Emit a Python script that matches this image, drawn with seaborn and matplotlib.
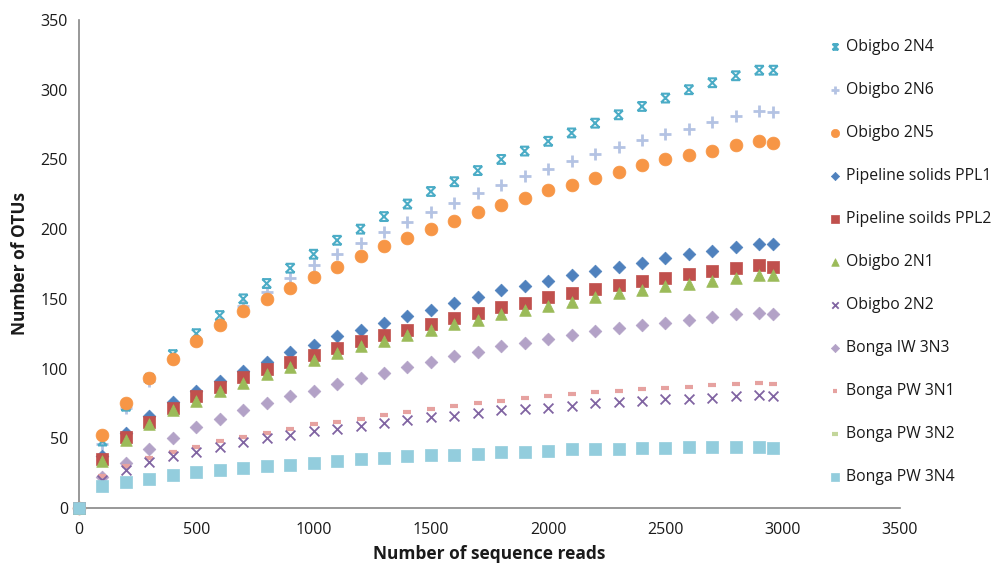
import numpy as np
import pandas as pd
import matplotlib
matplotlib.use("Agg")
import matplotlib.pyplot as plt
from matplotlib.path import Path
import seaborn as sns

reads = [0, 100, 200, 300, 400, 500, 600, 700, 800, 900, 1000, 1100, 1200, 1300, 1400, 1500,
         1600, 1700, 1800, 1900, 2000, 2100, 2200, 2300, 2400, 2500, 2600, 2700, 2800, 2900, 2960]

obigbo_2n4 = [0, 48, 73, 93, 110, 125, 138, 150, 161, 172, 182, 192, 200, 209, 218, 227,
              234, 242, 250, 256, 263, 269, 276, 282, 288, 294, 300, 305, 310, 314, 314]
obigbo_2n6 = [0, 46, 72, 91, 107, 121, 133, 145, 155, 165, 174, 182, 190, 198, 205, 212,
              219, 226, 232, 238, 243, 249, 254, 259, 264, 268, 272, 277, 281, 285, 284]
obigbo_2n5 = [0, 52, 75, 93, 107, 120, 131, 141, 150, 158, 166, 173, 181, 188, 194, 200,
              206, 212, 217, 222, 228, 232, 237, 241, 246, 250, 253, 256, 260, 263, 262]
ppl1 = [0, 37, 54, 66, 76, 84, 91, 98, 105, 112, 117, 123, 128, 133, 138, 142,
        147, 151, 156, 159, 163, 167, 170, 173, 176, 179, 182, 184, 187, 189, 189]
ppl2 = [0, 35, 51, 62, 72, 80, 87, 94, 100, 105, 110, 115, 120, 124, 128, 132,
        136, 140, 144, 147, 151, 154, 157, 160, 163, 165, 168, 170, 172, 174, 173]
obigbo_2n1 = [0, 34, 49, 60, 70, 77, 84, 90, 96, 101, 106, 111, 116, 120, 124, 128,
              132, 135, 139, 142, 145, 148, 151, 154, 156, 159, 161, 163, 165, 167, 167]
obigbo_2n2 = [0, 20, 27, 33, 37, 40, 44, 47, 50, 52, 55, 57, 59, 61, 63, 65,
              66, 68, 70, 71, 72, 73, 75, 76, 77, 78, 78, 79, 80, 81, 80]
bonga_iw_3n3 = [0, 22, 32, 42, 50, 58, 64, 70, 75, 80, 84, 89, 93, 97, 101, 105,
                109, 112, 116, 118, 121, 124, 127, 129, 131, 133, 135, 137, 139, 140, 139]
bonga_pw_3n1 = [0, 23, 30, 36, 40, 44, 48, 51, 54, 57, 60, 62, 64, 67, 69, 71,
                73, 75, 77, 79, 80, 82, 83, 84, 85, 86, 87, 88, 89, 90, 89]
bonga_pw_3n2 = [0, 15, 18, 20, 23, 25, 26, 28, 29, 30, 31, 33, 34, 35, 36, 37,
                37, 38, 39, 39, 40, 41, 41, 41, 42, 42, 43, 43, 43, 43, 42]
bonga_pw_3n4 = [0, 16, 19, 21, 24, 26, 27, 29, 30, 31, 32, 34, 35, 36, 37, 38,
                38, 39, 40, 40, 41, 42, 42, 42, 43, 43, 44, 44, 44, 44, 43]

labels = ["Obigbo 2N4", "Obigbo 2N6", "Obigbo 2N5", "Pipeline solids PPL1",
          "Pipeline soilds PPL2", "Obigbo 2N1", "Obigbo 2N2", "Bonga IW 3N3",
          "Bonga PW 3N1", "Bonga PW 3N2", "Bonga PW 3N4"]

# hourglass-like "x with bars" marker
hourglass = Path(
    [(-1, -1), (1, 1), (-1, 1), (1, -1), (-1, 1), (1, 1), (-1, -1), (1, -1)],
    [Path.MOVETO, Path.LINETO, Path.MOVETO, Path.LINETO,
     Path.MOVETO, Path.LINETO, Path.MOVETO, Path.LINETO])

styles = [
    dict(values=obigbo_2n4, color="#4BACC6", marker=hourglass, s=40, kind="path", lw=1.5),
    dict(values=obigbo_2n6, color="#B4C3E3", marker="+", s=70, kind="line", lw=2.0),
    dict(values=obigbo_2n5, color="#F79646", marker="o", s=85, kind="fill", lw=0),
    dict(values=ppl1, color="#4F81BD", marker="D", s=42, kind="fill", lw=0),
    dict(values=ppl2, color="#C0504D", marker="s", s=75, kind="fill", lw=0),
    dict(values=obigbo_2n1, color="#9BBB59", marker="^", s=70, kind="fill", lw=0),
    dict(values=obigbo_2n2, color="#8064A2", marker="x", s=50, kind="line", lw=1.3),
    dict(values=bonga_iw_3n3, color="#B3A2C7", marker="D", s=42, kind="fill", lw=0),
    dict(values=bonga_pw_3n1, color="#E6A2A0", marker="_", s=30, kind="line", lw=3),
    dict(values=bonga_pw_3n2, color="#C3D69B", marker="_", s=50, kind="line", lw=3),
    dict(values=bonga_pw_3n4, color="#93CDDD", marker="s", s=80, kind="fill", lw=0),
]

sns.set_theme(style="white")
plt.rcParams["font.family"] = ["Open Sans", "DejaVu Sans"]

fig = plt.figure(figsize=(10.03, 5.65), dpi=100)
ax = fig.add_axes([0.0788, 0.1009, 0.8185, 0.8637])

order = [1, 0, 2, 3, 4, 5, 7, 8, 6, 9, 10]
for i in order:
    st = styles[i]
    df = pd.DataFrame({"reads": reads, "otus": st["values"]})
    if st["kind"] == "fill":
        kw = dict(color=st["color"], edgecolor=st["color"], linewidth=0.5)
    elif st["kind"] == "path":
        kw = dict(facecolor="none", edgecolor=st["color"], linewidth=st["lw"])
    else:
        kw = dict(color=st["color"], linewidth=st["lw"])
    sns.scatterplot(data=df, x="reads", y="otus", marker=st["marker"], s=st["s"],
                    ax=ax, zorder=3, clip_on=False, label=labels[i], **kw)

ax.set_xlim(0, 3500)
ax.set_ylim(0, 350)
ax.set_xticks(np.arange(0, 3501, 500))
ax.set_yticks(np.arange(0, 351, 50))
for sp in ["top", "right"]:
    ax.spines[sp].set_visible(False)
for sp in ["left", "bottom"]:
    ax.spines[sp].set_color("#868686")
    ax.spines[sp].set_linewidth(1.2)
ax.tick_params(axis="both", which="major", direction="out", length=4, width=1,
               color="#868686", labelsize=11.5, labelcolor="#1a1a1a", pad=4)
ax.tick_params(axis="x", pad=6)
ax.set_xlabel("Number of sequence reads", fontsize=12.5, fontweight="bold", color="#1a1a1a", labelpad=5)
ax.set_ylabel("Number of OTUs", fontsize=12.5, fontweight="bold", color="#1a1a1a", labelpad=8)

h, l = ax.get_legend_handles_labels()
hmap = dict(zip(l, h))
leg = ax.legend([hmap[k] for k in labels], labels, loc="upper left",
                bbox_to_anchor=(0.822, 0.942), bbox_transform=fig.transFigure,
                frameon=False, fontsize=11.3, labelspacing=1.72, handlelength=0.6,
                handletextpad=0.4, markerscale=0.65, borderaxespad=0)
for t in leg.get_texts():
    t.set_color("#1a1a1a")

fig.savefig("out.png", dpi=100)
